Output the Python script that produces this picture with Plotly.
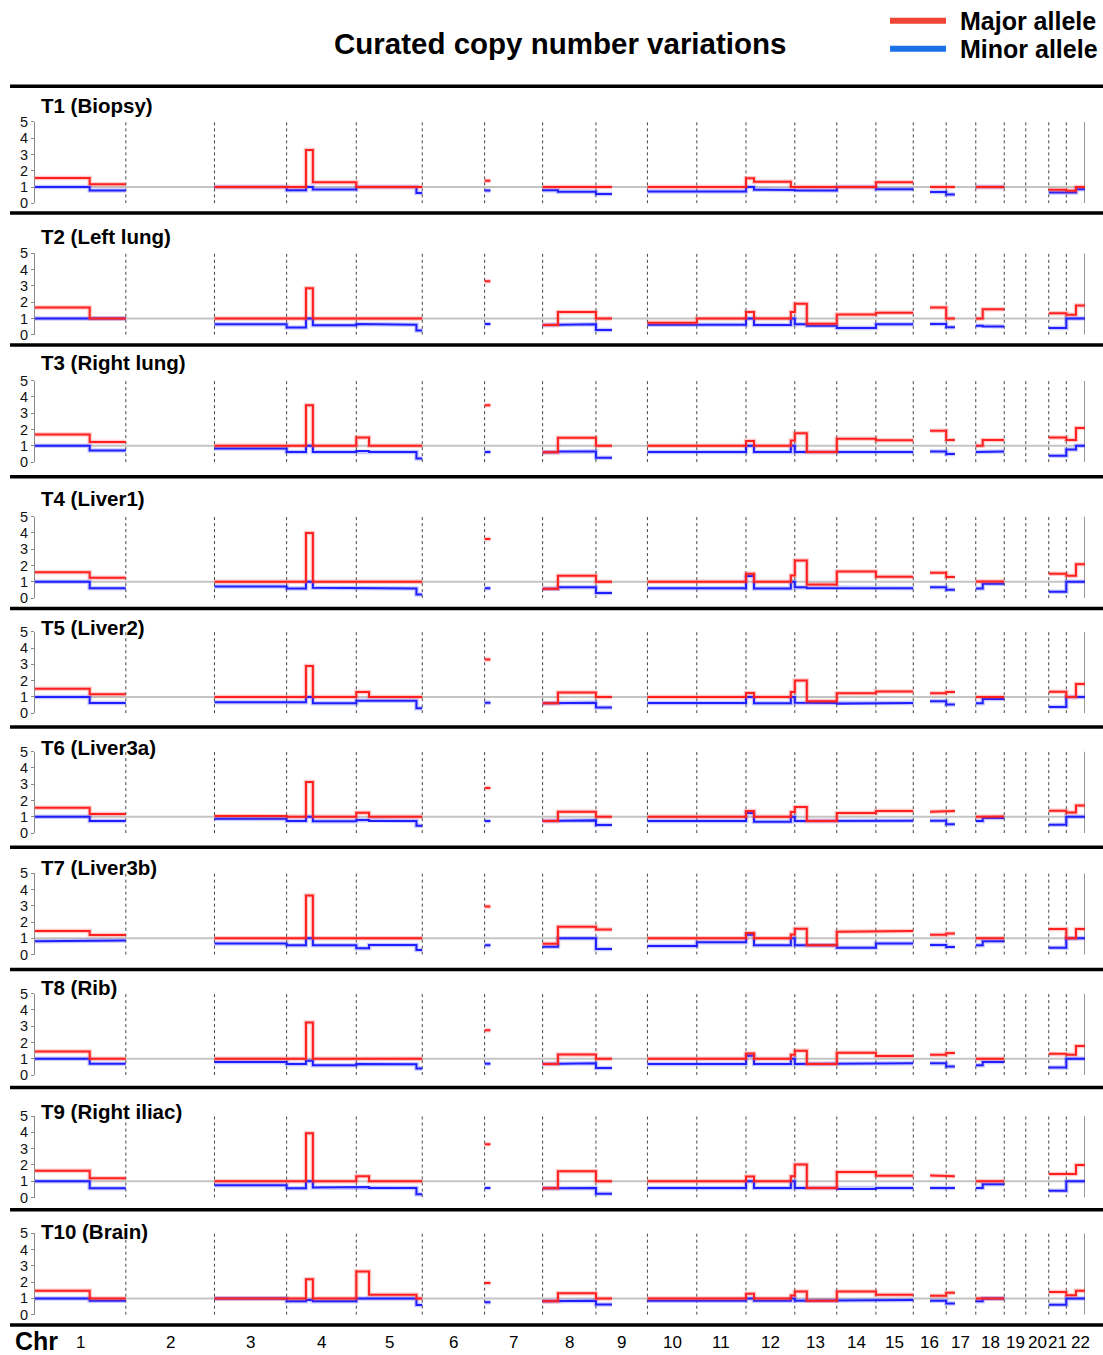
import plotly.graph_objects as go

W, H = 1103, 1355

# ---------------- data ----------------
CHROM_NAMES = [str(i) for i in range(1, 23)]
CHROM_LEN_MB = [249.25, 243.20, 198.02, 191.15, 180.92, 171.12, 159.14, 146.36,
                141.21, 135.53, 135.01, 133.85, 115.17, 107.35, 102.53, 90.35,
                81.20, 78.08, 59.13, 63.03, 48.13, 51.30]

# curated segments (chromosome, start Mb, end Mb)
SEG_CHROM = [1, 1, 3, 4, 4, 4, 5, 5, 5, 7, 8, 8, 9, 10, 11, 12, 12, 12, 13, 13,
             14, 15, 16, 17, 18, 18, 21, 22, 22]
SEG_START = [0, 150, 0, 0, 53, 72, 0, 35, 165, 0, 0, 42, 0, 0, 0, 0, 22, 123, 0, 33,
             0, 0, 46, 0, 0, 19, 0, 0, 26.5]
SEG_END = [150, 249.25, 198.02, 53, 72, 191.15, 35, 165, 180.92, 16, 42, 146.36, 44,
           135.53, 135.01, 22, 123, 133.85, 33, 115.17, 107.35, 102.53, 90.35, 24,
           19, 78.08, 48.13, 26.5, 51.30]

SAMPLE_LABELS = ["T1 (Biopsy)", "T2 (Left lung)", "T3 (Right lung)", "T4 (Liver1)",
                 "T5 (Liver2)", "T6 (Liver3a)", "T7 (Liver3b)", "T8 (Rib)",
                 "T9 (Right iliac)", "T10 (Brain)"]

MAJOR_T1 = [1.55, 1.18, 1.0, 1.0, 3.28, 1.3, 1.0, 1.0, 1.0, 1.38, 1.0, 1.0, 1.0, 1.0, 1.0,
            1.54, 1.32, 1.0, 1.0, 1.0, 1.0, 1.3, 1.0, 1.0, 1.0, 1.0, 0.83, 0.77, 1.0]
MINOR_T1 = [1.0, 0.79, 1.0, 0.81, 1.0, 0.85, 1.0, 1.0, 0.63, 0.79, 0.81, 0.71, 0.57, 0.73, 0.73,
            1.0, 0.84, 0.82, 0.79, 0.79, 1.0, 0.87, 0.69, 0.55, 1.0, 1.0, 0.67, 0.67, 0.87]

MAJOR_T2 = [1.67, 1.0, 1.0, 1.0, 2.86, 1.0, 1.0, 1.0, 1.0, 3.29, 0.6, 1.4, 1.0, 0.74, 1.0,
            1.4, 1.0, 1.4, 1.9, 0.68, 1.25, 1.36, 1.67, 1.0, 1.0, 1.56, 1.32, 1.23, 1.79]
MINOR_T2 = [1.0, 1.0, 0.64, 0.45, 1.0, 0.58, 0.66, 0.62, 0.27, 0.66, 0.6, 0.64, 0.3, 0.62, 0.62,
            1.0, 0.6, 1.0, 0.64, 0.56, 0.41, 0.64, 0.66, 0.47, 0.56, 0.51, 0.41, 1.0, 1.0]

MAJOR_T3 = [1.69, 1.24, 1.0, 1.0, 3.49, 1.0, 1.51, 1.0, 1.0, 3.49, 0.6, 1.49, 1.0, 1.0, 1.0,
            1.3, 1.0, 1.32, 1.78, 0.62, 1.43, 1.34, 1.92, 1.36, 1.0, 1.36, 1.51, 1.36, 2.1]
MINOR_T3 = [1.0, 0.71, 0.83, 0.62, 1.0, 0.62, 0.68, 0.62, 0.23, 0.62, 0.6, 0.66, 0.27, 0.62, 0.62,
            1.0, 0.62, 1.0, 0.62, 0.62, 0.62, 0.62, 0.66, 0.5, 0.62, 0.66, 0.39, 0.77, 1.0]

MAJOR_T4 = [1.59, 1.24, 1.0, 1.0, 4.0, 1.0, 1.0, 1.0, 1.0, 3.63, 0.57, 1.37, 1.0, 1.0, 1.0,
            1.49, 1.0, 1.39, 2.31, 0.84, 1.63, 1.31, 1.55, 1.29, 1.02, 1.02, 1.49, 1.37, 2.08]
MINOR_T4 = [1.0, 0.61, 0.71, 0.59, 1.0, 0.63, 0.63, 0.59, 0.22, 0.61, 0.57, 0.67, 0.31, 0.61, 0.61,
            1.35, 0.59, 1.0, 0.67, 0.61, 0.61, 0.61, 0.67, 0.51, 0.59, 0.88, 0.39, 1.0, 1.0]

MAJOR_T5 = [1.5, 1.16, 1.0, 1.0, 2.9, 1.0, 1.3, 1.0, 1.0, 3.29, 0.61, 1.28, 1.0, 1.0, 1.0,
            1.24, 1.0, 1.3, 2.01, 0.73, 1.22, 1.34, 1.22, 1.3, 1.0, 1.0, 1.32, 1.0, 1.79]
MINOR_T5 = [1.0, 0.63, 0.67, 0.67, 1.0, 0.61, 0.77, 0.77, 0.3, 0.65, 0.61, 0.65, 0.35, 0.63, 0.63,
            1.0, 0.61, 1.0, 0.65, 0.63, 0.59, 0.63, 0.73, 0.53, 0.61, 0.87, 0.39, 1.0, 1.0]

MAJOR_T6 = [1.56, 1.17, 1.05, 1.0, 3.13, 1.0, 1.25, 1.0, 1.0, 2.77, 0.74, 1.31, 1.0, 1.0, 1.0,
            1.35, 1.0, 1.29, 1.6, 0.74, 1.23, 1.35, 1.31, 1.35, 1.0, 1.02, 1.37, 1.27, 1.7]
MINOR_T6 = [1.0, 0.74, 0.88, 0.74, 1.0, 0.72, 0.8, 0.74, 0.45, 0.74, 0.74, 0.78, 0.49, 0.74, 0.74,
            1.23, 0.7, 1.0, 0.74, 0.74, 0.74, 0.76, 0.76, 0.55, 0.74, 0.92, 0.51, 1.0, 1.0]

MAJOR_T7 = [1.45, 1.2, 1.0, 1.0, 3.63, 1.0, 1.0, 1.0, 1.0, 2.96, 0.67, 1.71, 1.55, 1.0, 1.0,
            1.33, 1.0, 1.24, 1.59, 0.57, 1.41, 1.45, 1.22, 1.29, 1.0, 1.0, 1.57, 1.0, 1.57]
MINOR_T7 = [0.82, 0.86, 0.69, 0.57, 1.0, 0.57, 0.39, 0.59, 0.29, 0.57, 0.49, 1.0, 0.35, 0.53, 0.76,
            1.22, 0.57, 1.0, 0.57, 0.57, 0.43, 0.69, 0.59, 0.47, 0.57, 0.82, 0.43, 1.0, 1.0]

MAJOR_T8 = [1.45, 1.0, 1.0, 1.0, 3.22, 1.0, 1.0, 1.0, 1.0, 2.75, 0.68, 1.27, 1.0, 1.0, 1.0,
            1.33, 1.0, 1.25, 1.5, 0.68, 1.37, 1.17, 1.25, 1.35, 1.0, 1.0, 1.31, 1.25, 1.78]
MINOR_T8 = [1.0, 0.7, 0.8, 0.68, 0.88, 0.61, 0.68, 0.66, 0.41, 0.7, 0.68, 0.72, 0.43, 0.68, 0.68,
            1.19, 0.68, 1.0, 0.68, 0.68, 0.68, 0.72, 0.72, 0.53, 0.61, 0.8, 0.47, 1.0, 1.0]

MAJOR_T9 = [1.65, 1.18, 1.0, 1.0, 3.94, 1.0, 1.31, 1.0, 1.0, 3.27, 0.57, 1.61, 1.0, 1.0, 1.0,
            1.29, 1.0, 1.31, 2.02, 0.59, 1.57, 1.33, 1.35, 1.31, 1.0, 1.0, 1.45, 1.45, 2.0]
MINOR_T9 = [1.0, 0.57, 0.76, 0.57, 1.0, 0.61, 0.65, 0.59, 0.2, 0.59, 0.57, 0.59, 0.24, 0.59, 0.59,
            1.0, 0.59, 1.0, 0.59, 0.59, 0.53, 0.59, 0.59, 0.59, 0.59, 0.82, 0.41, 1.0, 1.0]

MAJOR_T10 = [1.47, 1.0, 1.0, 1.0, 2.18, 1.0, 2.65, 1.22, 1.0, 1.94, 0.82, 1.31, 1.0, 1.0, 1.0,
             1.29, 1.0, 1.18, 1.43, 0.86, 1.43, 1.22, 1.16, 1.35, 1.0, 1.0, 1.39, 1.2, 1.47]
MINOR_T10 = [1.0, 0.86, 1.0, 0.82, 0.9, 0.82, 1.0, 1.0, 0.59, 0.76, 0.82, 0.86, 0.63, 0.86, 0.86,
             1.0, 0.86, 1.0, 0.86, 0.86, 0.86, 0.9, 0.86, 0.69, 0.82, 1.0, 0.61, 1.0, 1.0]

MAJOR = [MAJOR_T1, MAJOR_T2, MAJOR_T3, MAJOR_T4, MAJOR_T5,
         MAJOR_T6, MAJOR_T7, MAJOR_T8, MAJOR_T9, MAJOR_T10]
MINOR = [MINOR_T1, MINOR_T2, MINOR_T3, MINOR_T4, MINOR_T5,
         MINOR_T6, MINOR_T7, MINOR_T8, MINOR_T9, MINOR_T10]

Y_TICKS = [0, 1, 2, 3, 4, 5]

# ---------------- layout constants (pixels in the target picture) ----------------
X_LEFT, X_RIGHT = 35, 1085
PANEL_ZERO_PX = [201.8, 333.4, 460.9, 597.0, 712.3, 832.3, 954.0, 1074.6, 1197.2, 1314.5]
PANEL_SPAN_PX = 81.6
TITLE_PX = [103.7, 234.5, 361.2, 497.5, 626.0, 747.0, 867.0, 987.0, 1111.4, 1230.7]
SEPARATOR_PX = [84.5, 211.5, 343.5, 475.5, 607.5, 726.0, 846.5, 969.0, 1087.0, 1209.5, 1324.7]

# observed vertical mapping of the photographed page (picture y = Y_OFF + Y_SCALE * page y)
Y_OFF, Y_SCALE = 6.2, 0.9894

RED = "rgb(255,32,32)"
RED_HALO = "rgba(255,60,60,0.28)"
BLUE = "rgb(32,32,255)"
BLUE_HALO = "rgba(60,60,255,0.28)"
FONT = "Liberation Sans, Arial, Helvetica, sans-serif"

offsets = [0.0]
for L in CHROM_LEN_MB:
    offsets.append(offsets[-1] + L)
TOTAL = offsets[-1]


def px_x(p):
    return p / W


def px_y(p):
    return 1 - ((p - Y_OFF) / Y_SCALE) / H


def step_path(values):
    xs, ys = [], []
    prev_end = None
    for c, s, e, v in zip(SEG_CHROM, SEG_START, SEG_END, values):
        gs = offsets[c - 1] + s
        ge = offsets[c - 1] + e
        if prev_end is not None and abs(gs - prev_end) > 0.05:
            xs.append(None)
            ys.append(None)
        xs += [gs, ge]
        ys += [v, v]
        prev_end = ge
    return xs, ys


fig = go.Figure()
layout = dict(
    width=W, height=H, margin=dict(l=0, r=0, t=0, b=0),
    paper_bgcolor="white", plot_bgcolor="white", showlegend=False,
    font=dict(family=FONT, color="#111"),
)

bx, by = [], []
for b in offsets[1:-1]:
    bx += [b, b, None]
    by += [0, 5, None]

annotations = []
for i in range(10):
    n = "" if i == 0 else str(i + 1)
    xa, ya = "x" + n, "y" + n
    p0 = PANEL_ZERO_PX[i]
    layout["xaxis" + n] = dict(domain=[px_x(X_LEFT), px_x(X_RIGHT)], range=[0, TOTAL],
                               visible=False, anchor=ya, fixedrange=True)
    layout["yaxis" + n] = dict(domain=[px_y(p0), px_y(p0 - PANEL_SPAN_PX)], range=[0, 5],
                               anchor=xa, tickvals=Y_TICKS, showline=True,
                               linecolor="#8a8a8a", linewidth=1, ticks="outside",
                               ticklen=3, tickcolor="#8a8a8a", showgrid=False,
                               zeroline=False, fixedrange=True,
                               tickfont=dict(size=14.5, color="#111", family=FONT))
    # baseline at copy number 1
    fig.add_trace(go.Scatter(x=[0, TOTAL], y=[1, 1], mode="lines", xaxis=xa, yaxis=ya,
                             line=dict(color="#c4c4c4", width=2), hoverinfo="skip"))
    # chromosome boundaries
    fig.add_trace(go.Scatter(x=bx, y=by, mode="lines", xaxis=xa, yaxis=ya,
                             line=dict(color="#444", width=1, dash="dot"), hoverinfo="skip"))
    fig.add_trace(go.Scatter(x=[TOTAL, TOTAL], y=[0, 5], mode="lines", xaxis=xa, yaxis=ya,
                             line=dict(color="#555", width=1.2), hoverinfo="skip"))
    mx, my = step_path(MINOR[i])
    Mx, My = step_path(MAJOR[i])
    fig.add_trace(go.Scatter(x=mx, y=my, mode="lines", xaxis=xa, yaxis=ya,
                             line=dict(color=BLUE_HALO, width=4.5), hoverinfo="skip"))
    fig.add_trace(go.Scatter(x=mx, y=my, mode="lines", xaxis=xa, yaxis=ya,
                             line=dict(color=BLUE, width=2), name="Minor allele"))
    fig.add_trace(go.Scatter(x=Mx, y=My, mode="lines", xaxis=xa, yaxis=ya,
                             line=dict(color=RED_HALO, width=4.5), hoverinfo="skip"))
    fig.add_trace(go.Scatter(x=Mx, y=My, mode="lines", xaxis=xa, yaxis=ya,
                             line=dict(color=RED, width=2), name="Major allele"))
    annotations.append(dict(text="<b>%s</b>" % SAMPLE_LABELS[i], xref="paper", yref="paper",
                            x=px_x(38.5), y=px_y(TITLE_PX[i]), xanchor="left",
                            yanchor="middle", showarrow=False,
                            font=dict(size=20.5, color="#000", family=FONT)))

# chromosome labels
for k, name in enumerate(CHROM_NAMES):
    annotations.append(dict(text=name, xref="x10", yref="paper",
                            x=offsets[k] + CHROM_LEN_MB[k] / 2, y=px_y(1342),
                            xanchor="center", yanchor="middle", showarrow=False,
                            xshift=5 if k == len(CHROM_NAMES) - 1 else 0,
                            font=dict(size=17, color="#000", family=FONT)))
annotations.append(dict(text="<b>Chr</b>", xref="paper", yref="paper", x=px_x(13),
                        y=px_y(1341), xanchor="left", yanchor="middle", showarrow=False,
                        font=dict(size=25, color="#000", family=FONT)))

# title and legend
annotations.append(dict(text="<b>Curated copy number variations</b>", xref="paper",
                        yref="paper", x=px_x(560), y=px_y(42), xanchor="center",
                        yanchor="middle", showarrow=False,
                        font=dict(size=29.5, color="#000", family=FONT)))
annotations.append(dict(text="<b>Major allele</b>", xref="paper", yref="paper",
                        x=px_x(958), y=px_y(19), xanchor="left", yanchor="middle",
                        showarrow=False, font=dict(size=25, color="#000", family=FONT)))
annotations.append(dict(text="<b>Minor allele</b>", xref="paper", yref="paper",
                        x=px_x(958), y=px_y(47), xanchor="left", yanchor="middle",
                        showarrow=False, font=dict(size=25, color="#000", family=FONT)))

shapes = []
for p in SEPARATOR_PX:
    shapes.append(dict(type="line", xref="paper", yref="paper", x0=px_x(10), x1=1,
                       y0=px_y(p), y1=px_y(p), line=dict(color="#000", width=3.5)))
shapes.append(dict(type="line", xref="paper", yref="paper", x0=px_x(890), x1=px_x(946),
                   y0=px_y(19), y1=px_y(19), line=dict(color="#ee4433", width=6)))
shapes.append(dict(type="line", xref="paper", yref="paper", x0=px_x(890), x1=px_x(946),
                   y0=px_y(47), y1=px_y(47), line=dict(color="#1a72e6", width=6)))

layout["annotations"] = annotations
layout["shapes"] = shapes
fig.update_layout(**layout)
fig.write_html("out.html", config={"displayModeBar": False},
               post_script="document.body.style.margin='0';document.body.style.padding='0';"
                           "document.body.style.overflow='hidden';")
